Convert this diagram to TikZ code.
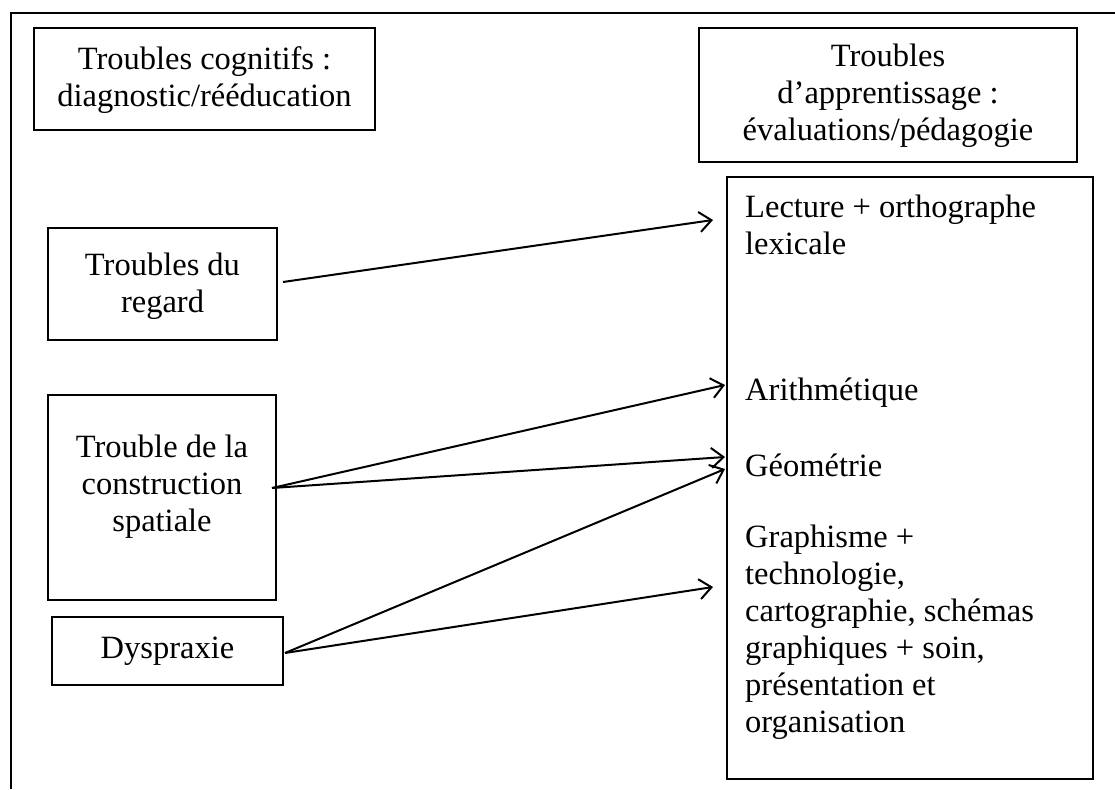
\documentclass[tikz,border=0pt]{standalone}
\usepackage{fontspec}
\setmainfont{Liberation Serif}
\usetikzlibrary{arrows.meta}
\tikzset{
  box/.style={draw, line width=1.3pt, inner sep=0pt},
  txt/.style={font=\fontsize{32.5}{37}\selectfont, align=center, inner sep=0pt},
  ltxt/.style={font=\fontsize{32.5}{37}\selectfont, align=left, anchor=west, inner sep=0pt},
  arr/.style={line width=2pt, -{Straight Barb[length=12pt,width=20pt,line width=2pt]}}
}
\begin{document}
\begin{tikzpicture}[x=1pt,y=-1pt]
\useasboundingbox (0,0) rectangle (1115,789);
% outer frame
\draw[line width=2.2pt] (11,789) -- (11,12.7) -- (1120,12.7);
% header boxes
\draw[box] (34,28) rectangle (375,130);
\node[txt] (h1) at (204.5,80) {Troubles cognitifs :\\diagnostic/rééducation};
\draw[box] (699,28) rectangle (1077,162);
\node[txt] (h2) at (888,96) {Troubles\\d’apprentissage :\\évaluations/pédagogie};
% left boxes
\draw[box] (48,228) rectangle (277,340);
\node[txt] (reg) at (162.5,286) {Troubles du\\regard};
\draw[box] (48,395) rectangle (276,600);
\node[txt] (cons) at (162,487) {Trouble de la\\construction\\spatiale};
\draw[box] (52,617) rectangle (283,685);
\node[txt] (dys) at (167.5,651) {Dyspraxie};
% right big box
\draw[box] (727,177) rectangle (1093,779);
\node[ltxt] (lect) at (745,225) {Lecture + orthographe\\lexicale};
\node[ltxt] (ari) at (745,393) {Arithmétique};
\node[ltxt] (geo) at (745,465) {Géométrie};
\node[ltxt] (gra) at (745,632) {Graphisme +\\technologie,\\cartographie, schémas\\graphiques + soin,\\présentation et\\organisation};
% connector anchors
\coordinate (sReg) at (283,282);
\coordinate (sCons) at (272,488);
\coordinate (sDys) at (285,653);
\coordinate (tLect) at (713,220);
\coordinate (tAri) at (725,385);
\coordinate (tGeo1) at (725,457);
\coordinate (tGeo2) at (725,469);
\coordinate (tGra) at (713,587);
\draw[arr] (sReg) -- (tLect);
\draw[arr] (sCons) -- (tAri);
\draw[arr] (sCons) -- (tGeo1);
\draw[arr] (sDys) -- (tGeo2);
\draw[arr] (sDys) -- (tGra);
\end{tikzpicture}
\end{document}
